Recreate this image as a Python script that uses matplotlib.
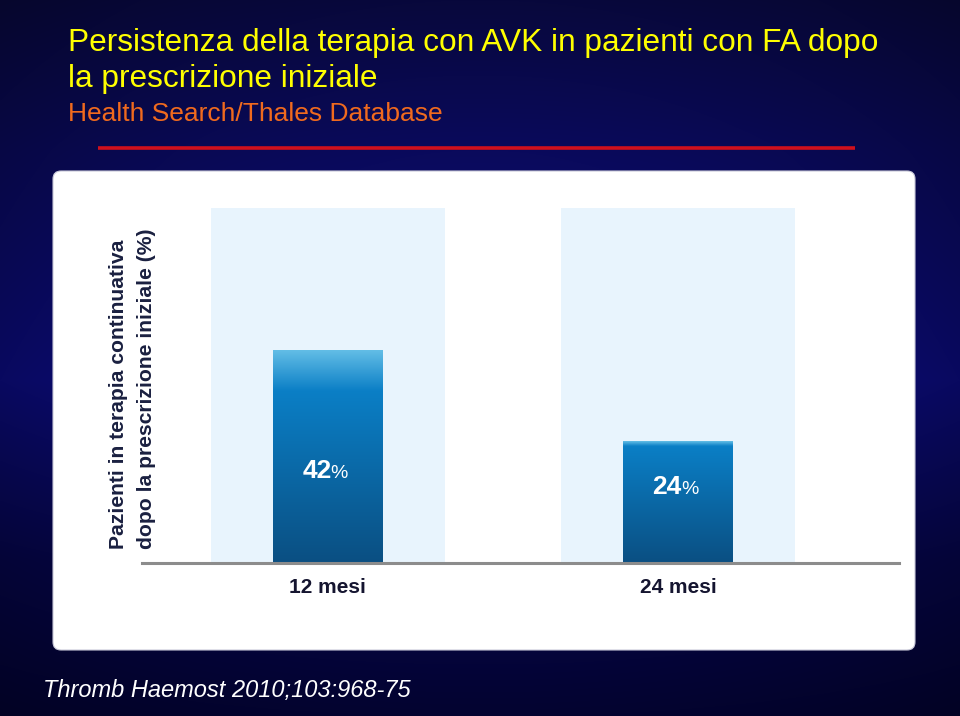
import numpy as np
import matplotlib
matplotlib.use("Agg")
import matplotlib.pyplot as plt
from matplotlib.patches import FancyBboxPatch
from matplotlib.colors import to_rgb

# ---------------- data ----------------
categories = ["12 mesi", "24 mesi"]
values = [42, 24]
value_labels = ["42", "24"]
axis_max = 70
title_lines = ["Persistenza della terapia con AVK in pazienti con FA dopo",
               "la prescrizione iniziale"]
subtitle = "Health Search/Thales Database"
ylabel = "Pazienti in terapia continuativa\ndopo la prescrizione iniziale (%)"
footer = "Thromb Haemost 2010;103:968-75"

# ---------------- style ----------------
label_frac = [0.40, 0.567]      # label baseline as fraction of bar height
highlight_frac = [0.19, 0.04]   # top highlight band of each bar
FONT = "Liberation Sans"

W, H = 960, 716
fig = plt.figure(figsize=(W / 100, H / 100), dpi=100)

# background (pixel coordinates)
bg = fig.add_axes([0, 0, 1, 1])
bg.set_xlim(0, W)
bg.set_ylim(H, 0)
bg.axis("off")
ys = np.array([0, 150, 380, 560, 716])
cols = np.array([to_rgb(c) for c in ["#08083c", "#0a0a5c", "#0c0c80", "#06064a", "#030330"]])
yy = np.arange(H)
grad = np.stack([np.interp(yy, ys, cols[:, k]) for k in range(3)], axis=1)
xx = np.linspace(-1, 1, W)
hfall = 1 - 0.25 * xx ** 2
img = grad[:, None, :] * hfall[None, :, None]
bg.imshow(img, extent=(0, W, H, 0), aspect="auto", zorder=0)

# white panel
panel = FancyBboxPatch((55, 173), 858, 475, boxstyle="round,pad=2,rounding_size=8",
                       fc="white", ec="#c8c8d8", lw=0.8, zorder=1)
bg.add_patch(panel)

# red rule
bg.plot([98, 855], [147.5, 147.5], color="#d0101c", lw=2.6, solid_capstyle="butt", zorder=2)

# titles
bg.text(68, 51, title_lines[0], color="#ffff00", fontsize=22.8, family=FONT, va="baseline", ha="left")
bg.text(68, 87, title_lines[1], color="#ffff00", fontsize=22.8, family=FONT, va="baseline", ha="left")
bg.text(68, 121, subtitle, color="#f06a1e", fontsize=19, family=FONT, va="baseline", ha="left")
bg.text(43, 697, footer, color="white", fontsize=17, family=FONT, style="italic",
        va="baseline", ha="left")

# main axes
left, right, top, bottom = 142, 899, 208, 563
ax = fig.add_axes([left / W, 1 - bottom / H, (right - left) / W, (bottom - top) / H])
ax.set_facecolor("none")
x = np.arange(len(categories))
ax.set_xlim(-0.531, 1.631)
ax.set_ylim(0, axis_max)

ax.bar(x, [axis_max] * len(x), width=0.666, color="#e8f4fd", zorder=1)
bars = ax.bar(x, values, width=0.314, color="none", zorder=2)

top_c = np.array(to_rgb("#62bde6"))
mid_c = np.array(to_rgb("#0b7fc6"))
bot_c = np.array(to_rgb("#0a4f82"))
for i, (b, v) in enumerate(zip(bars, values)):
    n = 300
    f = np.linspace(1, 0, n)  # top row first
    hl = highlight_frac[i]
    rows = []
    for t in f:
        if t >= 1 - hl:
            s = (t - (1 - hl)) / hl
            c = mid_c + (top_c - mid_c) * s
        else:
            s = t / (1 - hl)
            c = bot_c + (mid_c - bot_c) * s
        rows.append(c)
    g = np.array(rows)[:, None, :]
    x0 = b.get_x()
    im = ax.imshow(g, extent=(x0, x0 + b.get_width(), 0, v), aspect="auto", zorder=3,
                   interpolation="bilinear")
    im.set_clip_path(b)
    ly = v * label_frac[i]
    ax.text(x[i] + 0.01, ly, value_labels[i], color="white", fontsize=19, fontweight="bold",
            family=FONT, ha="right", va="baseline", zorder=5)
    ax.text(x[i] + 0.008, ly, "%", color="white", fontsize=14, family=FONT,
            ha="left", va="baseline", zorder=5)

for s in ["top", "left", "right"]:
    ax.spines[s].set_visible(False)
ax.spines["bottom"].set_color("#8c8c8c")
ax.spines["bottom"].set_linewidth(2.2)
ax.spines["bottom"].set_zorder(6)
ax.set_yticks([])
ax.set_xticks(x)
ax.set_xticklabels(categories, fontsize=15, fontweight="bold", color="#151530", family=FONT)
ax.tick_params(axis="x", length=0, pad=11)

fig.text(132.5 / W, 1 - 549 / H, ylabel, rotation=90, ha="center", va="bottom",
         multialignment="left", fontsize=15.2, fontweight="bold", color="#1a2040",
         family=FONT, linespacing=1.6)

fig.savefig("out.png", dpi=100)
